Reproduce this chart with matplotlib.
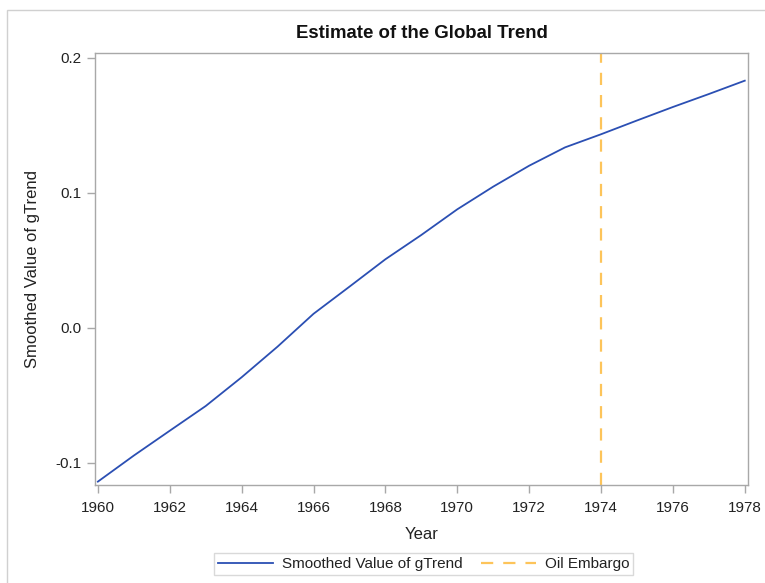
import matplotlib
matplotlib.use("Agg")
import matplotlib.pyplot as plt
from matplotlib.patches import Rectangle

plt.rcParams['font.family'] = ['Liberation Sans', 'DejaVu Sans']

years = [1960, 1961, 1962, 1963, 1964, 1965, 1966, 1967, 1968, 1969,
         1970, 1971, 1972, 1973, 1974, 1975, 1976, 1977, 1978]
trend = [-0.1138, -0.0945, -0.0761, -0.0578, -0.0365, -0.0138, 0.0105,
         0.0306, 0.0509, 0.0689, 0.0879, 0.1047, 0.1202, 0.1338, 0.1435,
         0.1537, 0.1637, 0.1733, 0.1832]
embargo_year = 1974
xticks = [1960, 1962, 1964, 1966, 1968, 1970, 1972, 1974, 1976, 1978]
yticks = [-0.1, 0.0, 0.1, 0.2]
yticklabels = ['-0.1', '0.0', '0.1', '0.2']

W, H = 765, 583
fig = plt.figure(figsize=(W / 100, H / 100), dpi=100)
fig.patch.set_facecolor('white')

# outer frame
fig.patches.append(Rectangle((7 / W, -0.1), 1.2, 1 - 10 / H + 0.1,
                             transform=fig.transFigure, fill=False,
                             edgecolor='#D0D0D0', linewidth=1.0))

ax = fig.add_axes([95 / W, 1 - 485 / H, (748 - 95) / W, (485 - 53) / H])

blue = '#2B4FB3'
orange = '#FDC45A'
ax.plot(years, trend, color=blue, linewidth=1.3, label='Smoothed Value of gTrend')
ax.axvline(embargo_year, color=orange, linewidth=1.6, linestyle=(0, (5.5, 4.5)),
           label='Oil Embargo')

ax.set_xlim(1959.92, 1978.09)
ax.set_ylim(-0.1163, 0.2037)
ax.set_xticks(xticks)
ax.set_xticklabels([str(x) for x in xticks])
ax.set_yticks(yticks)
ax.set_yticklabels(yticklabels)

for s in ax.spines.values():
    s.set_color('#A8A8A8')
    s.set_linewidth(1.0)
ax.tick_params(colors='#A8A8A8', labelcolor='#222222', labelsize=11,
               length=6, width=1.0)
ax.tick_params(axis='x', pad=5.5)

ax.set_xlabel('Year', fontsize=12, color='#222222', labelpad=9)
ax.set_ylabel('Smoothed Value of gTrend', fontsize=12, color='#222222', labelpad=11)
fig.text(0.5 * (95 + 748) / W, 1 - 33 / H, 'Estimate of the Global Trend',
         ha='center', va='center', fontsize=13.4, fontweight='bold', color='#111111')

leg = fig.legend(loc='center', bbox_to_anchor=(0.5 * (211 + 636) / W, 1 - 564 / H),
                 ncol=2, frameon=True, fancybox=False, fontsize=11,
                 handlelength=3.6, columnspacing=1.2, handletextpad=0.6,
                 borderpad=0.25, edgecolor='#D0D0D0')
leg.get_frame().set_linewidth(1.0)
for t in leg.get_texts():
    t.set_color('#222222')

fig.savefig('out.png', dpi=100, facecolor='white')
